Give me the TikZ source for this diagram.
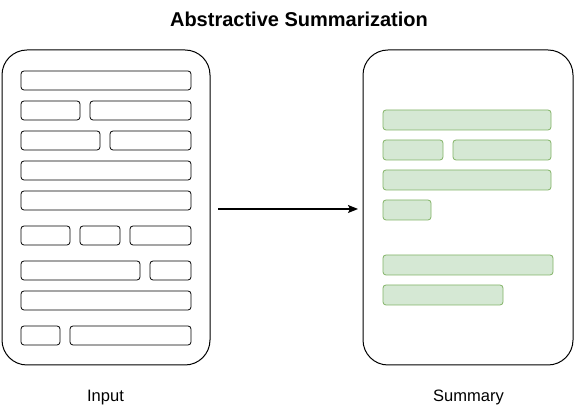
\documentclass[tikz,border=0pt]{standalone}
\usepackage{fontspec}
\setmainfont{Liberation Sans}
\usetikzlibrary{arrows.meta}
\definecolor{gfill}{HTML}{D5E8D4}
\definecolor{gline}{HTML}{82B366}
\newcommand\rowbox[6]{\node[#1,minimum width=#5pt,minimum height=#6pt] (#2) at (#3,#4) {};}
\begin{document}
\begin{tikzpicture}[x=1pt,y=-1pt,
  every node/.style={inner sep=0pt,outer sep=0pt},
  page/.style={draw=black,line width=1pt,rounded corners=25pt,anchor=north west,fill=white},
  inrow/.style={draw=black,line width=0.8pt,rounded corners=3pt,anchor=north west},
  outrow/.style={draw=gline,fill=gfill,line width=0.8pt,rounded corners=3pt,anchor=north west},
  lbl/.style={anchor=base,font=\fontsize{16.5pt}{18pt}\selectfont},
  flow/.style={line width=1.2pt,-{Stealth[length=10pt,width=8pt,inset=2pt]}}]
\useasboundingbox (0,0) rectangle (574,411);
\node[anchor=base,font=\bfseries\fontsize{20pt}{24pt}\selectfont] (title) at (299,27) {Abstractive Summarization};
\node[page,minimum width=208pt,minimum height=315pt] (input) at (2,50) {};
\node[page,minimum width=210pt,minimum height=315pt] (summary) at (363,50) {};
% input rows
\rowbox{inrow}{in1}{21}{71}{170}{19}
\rowbox{inrow}{in2a}{21}{101}{59}{19}
\rowbox{inrow}{in2b}{90}{101}{101}{19}
\rowbox{inrow}{in3a}{21}{131}{79}{19}
\rowbox{inrow}{in3b}{110}{131}{81}{19}
\rowbox{inrow}{in4}{21}{161}{170}{19}
\rowbox{inrow}{in5}{21}{191}{170}{19}
\rowbox{inrow}{in6a}{21}{226}{49}{19}
\rowbox{inrow}{in6b}{80}{226}{40}{19}
\rowbox{inrow}{in6c}{130}{226}{61}{19}
\rowbox{inrow}{in7a}{21}{261}{119}{19}
\rowbox{inrow}{in7b}{150}{261}{41}{19}
\rowbox{inrow}{in8}{21}{291}{170}{19}
\rowbox{inrow}{in9a}{21}{326}{39}{19}
\rowbox{inrow}{in9b}{70}{326}{121}{19}
% summary rows
\rowbox{outrow}{s1}{383}{110}{168}{20}
\rowbox{outrow}{s2a}{383}{140}{60}{20}
\rowbox{outrow}{s2b}{453}{140}{98}{20}
\rowbox{outrow}{s3}{383}{170}{168}{20}
\rowbox{outrow}{s4}{383}{200}{48}{20}
\rowbox{outrow}{s5}{383}{255}{170}{20}
\rowbox{outrow}{s6}{383}{285}{120}{20}
% arrow
\draw[flow,shorten <=8pt,shorten >=5pt] ([yshift=-1.5pt]input.east) -- ([yshift=-1.5pt]summary.west);
% labels
\node[lbl] (inlabel) at (105.5,401.5) {Input};
\node[lbl] (sumlabel) at (468.5,401.5) {Summary};
\end{tikzpicture}
\end{document}
